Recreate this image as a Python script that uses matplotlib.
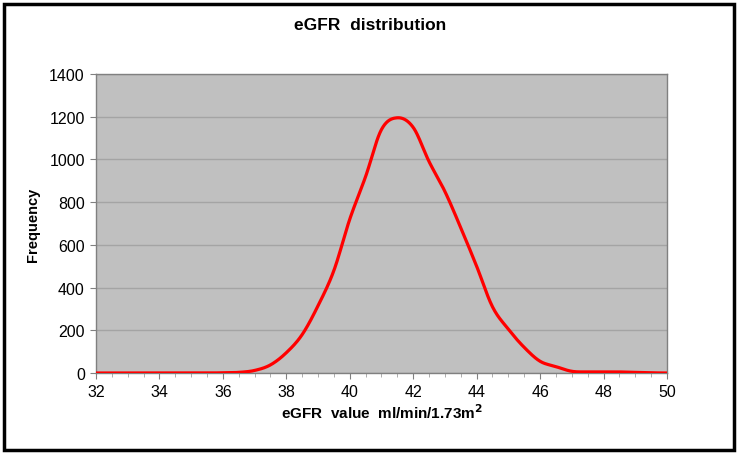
import numpy as np
import matplotlib
matplotlib.use("Agg")
import matplotlib.pyplot as plt
from matplotlib.patches import Rectangle
from matplotlib.ticker import MultipleLocator

plt.rcParams['font.family'] = ['Liberation Sans', 'DejaVu Sans']

# eGFR values (ml/min/1.73m2) and frequencies
egfr = [32, 32.5, 33, 33.5, 34, 34.5, 35, 35.5, 36, 36.5, 37, 37.5, 38, 38.5,
        39, 39.5, 40, 40.5, 41, 41.5, 42, 42.5, 43, 43.5, 44, 44.5, 45, 45.5,
        46, 46.5, 47, 47.5, 48, 48.5, 49, 49.5, 50]
freq = [0, 0, 0, 0, 0, 0, 0, 0, 1, 3, 12, 38, 95, 180,
        315, 480, 720, 920, 1140, 1195, 1150, 990, 850, 680, 500, 310, 205, 120,
        55, 30, 8, 5, 5, 5, 3, 1, 0]
y_ticks = [0, 200, 400, 600, 800, 1000, 1200, 1400]
x_ticks = [32, 34, 36, 38, 40, 42, 44, 46, 48, 50]


def smooth(x, y, n=20):
    # catmull-rom, like the excel "smoothed line" option
    x = np.asarray(x, float)
    y = np.asarray(y, float)
    px = np.concatenate([[2 * x[0] - x[1]], x, [2 * x[-1] - x[-2]]])
    py = np.concatenate([[y[0]], y, [y[-1]]])
    xs, ys = [], []
    t = np.linspace(0, 1, n, endpoint=False)
    for i in range(1, len(px) - 2):
        for p, out in ((px, xs), (py, ys)):
            p0, p1, p2, p3 = p[i - 1], p[i], p[i + 1], p[i + 2]
            out.extend(0.5 * ((2 * p1) + (-p0 + p2) * t
                              + (2 * p0 - 5 * p1 + 4 * p2 - p3) * t ** 2
                              + (-p0 + 3 * p1 - 3 * p2 + p3) * t ** 3))
    xs.append(x[-1])
    ys.append(y[-1])
    return np.array(xs), np.array(ys)


fig = plt.figure(figsize=(7.4, 4.56), dpi=100)
ax = fig.add_axes([0.1297, 0.1798, 0.7716, 0.6557])
ax.set_facecolor('#c0c0c0')

sx, sy = smooth(egfr, freq)
ax.plot(sx, np.clip(sy, 0, None), color='#ff0000', lw=2.3, solid_capstyle='butt', zorder=3)

ax.set_xlim(32, 50)
ax.set_ylim(0, 1400)
ax.set_xticks(x_ticks)
ax.set_yticks(y_ticks)
ax.xaxis.set_minor_locator(MultipleLocator(0.5))
ax.yaxis.grid(True, color='#a4a4a4', lw=1)
ax.set_axisbelow(True)
for s in ax.spines.values():
    s.set_color('#808080')
    s.set_linewidth(1)
ax.tick_params(axis='both', which='major', color='#808080', length=4,
               labelsize=11.5, pad=4)
ax.tick_params(axis='x', which='minor', color='#a0a0a0', length=3)

ax.set_xlabel('eGFR  value  ml/min/1.73m$^\\mathbf{2}$', fontsize=11,
              fontweight='bold', labelpad=2)
ax.set_ylabel('Frequency', fontsize=10.5, fontweight='bold', labelpad=7)
fig.text(0.5, 0.943, 'eGFR  distribution', ha='center', va='center',
         fontsize=12.5, fontweight='bold')

fig.patches.append(Rectangle((0.0055, 0.011), 0.9865, 0.978, transform=fig.transFigure,
                             fill=False, edgecolor='black', lw=2.5))

fig.savefig('out.png', dpi=100)
